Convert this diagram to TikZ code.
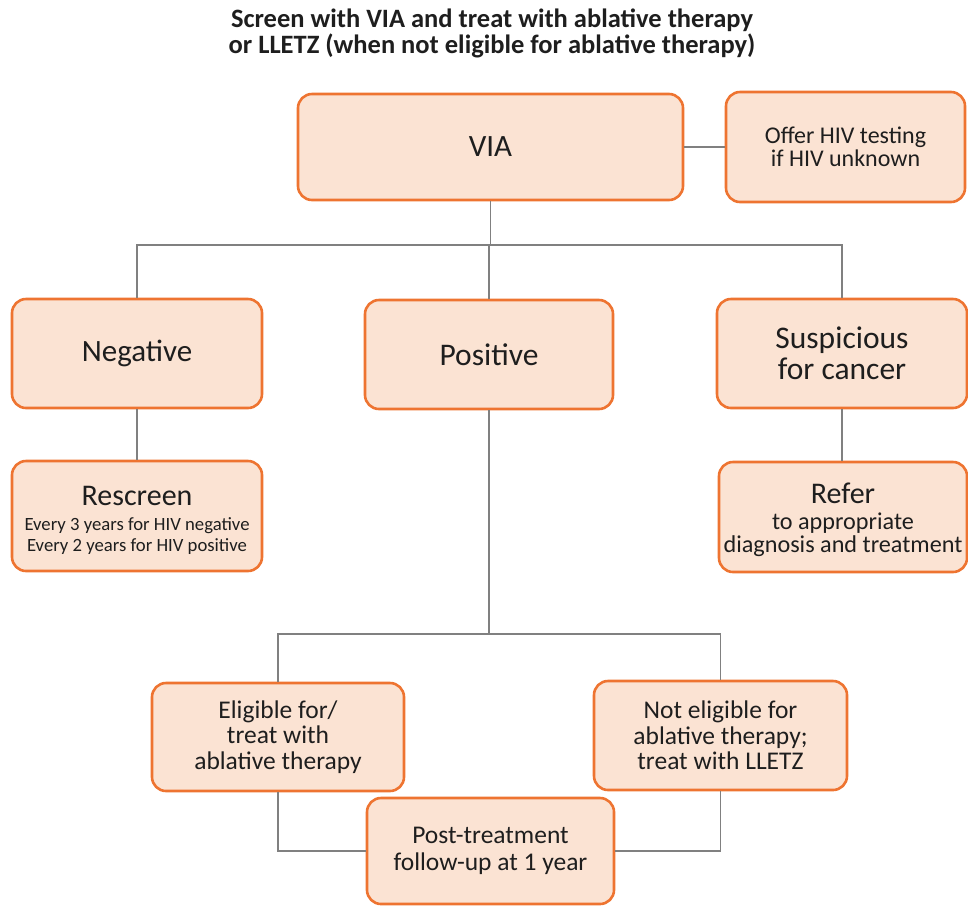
\documentclass[tikz,border=0pt]{standalone}
\usepackage{fontspec}
\setmainfont{Carlito}
\definecolor{boxfill}{HTML}{FBE3D3}
\definecolor{boxline}{HTML}{EE7431}
\definecolor{linegray}{HTML}{808080}
\definecolor{txt}{HTML}{1E1E1E}
\newcommand\myfs[2]{\fontsize{#1}{#2}\selectfont}
\begin{document}
\begin{tikzpicture}[x=1pt,y=-1pt,
  box/.style={draw=boxline, fill=boxfill, line width=2.6pt, rounded corners=14pt,
    align=center, inner sep=0pt, text=txt},
  conn/.style={draw=linegray, line width=1.4pt}]
\useasboundingbox (0,0) rectangle (968,906);
\node[align=center, text=txt, font=\bfseries\myfs{26.5}{26}] (title) at (492,33)
  {Screen with VIA and treat with ablative therapy\\or LLETZ (when not eligible for ablative therapy)};
\node[box, minimum width=385pt, minimum height=106pt, font=\myfs{31}{31}] (via) at (490.5,147) {VIA};
\node[box, minimum width=239pt, minimum height=110pt, font=\myfs{24}{23}] (offer) at (845.5,147) {Offer HIV testing\\if HIV unknown};
\node[box, minimum width=250pt, minimum height=109pt, font=\myfs{31}{31}] (neg) at (137,353.5) {Negative};
\node[box, minimum width=248pt, minimum height=109pt, font=\myfs{31.5}{31}] (pos) at (489,354.5) {Positive};
\node[box, minimum width=250pt, minimum height=109pt, font=\myfs{31.5}{31}] (susp) at (842,353.5) {Suspicious\\for cancer};
\node[box, minimum width=250pt, minimum height=110pt,
  label={[align=center, text=txt, font=\myfs{18.7}{20.5}, yshift=-4pt]center:{{\myfs{30}{29}Rescreen}\\[5pt]Every 3 years for HIV negative\\Every 2 years for HIV positive}}] (resc) at (137,516) {};
\node[box, minimum width=248pt, minimum height=110pt,
  label={[align=center, text=txt, font=\myfs{24.2}{23}, yshift=-2.5pt]center:{{\myfs{30}{29}Refer}\\[3pt]to appropriate\\diagnosis and treatment}}] (refer) at (843,517) {};
\node[box, minimum width=252pt, minimum height=108pt, font=\myfs{25.5}{25.5}] (elig) at (278,737) {Eligible for/\\treat with\\ablative therapy};
\node[box, minimum width=253pt, minimum height=109pt, font=\myfs{25.5}{25.5}] (nelig) at (720.5,735.5) {Not eligible for\\ablative therapy;\\treat with LLETZ};
\node[box, minimum width=247pt, minimum height=106pt, font=\myfs{25.5}{27}] (post) at (490.5,851) {Post-treatment\\follow-up at 1 year};
\coordinate (h1) at (0,245);
\coordinate (h2) at (0,634);
\draw[conn] (via.east) -- (offer.west);
\draw[conn] (via.south) -- (via.south |- h1);
\draw[conn] (neg.north) -- (neg.north |- h1) -- (susp.north |- h1) -- (susp.north);
\draw[conn] (pos.north) -- (pos.north |- h1);
\draw[conn] (neg.south) -- (resc.north);
\draw[conn] (susp.south) -- (susp.south |- refer.north);
\draw[conn] (pos.south) -- (pos.south |- h2);
\draw[conn] (elig.north) -- (elig.north |- h2) -- (nelig.north |- h2) -- (nelig.north);
\draw[conn] (elig.south) |- (post.west);
\draw[conn] (nelig.south) |- (post.east);
\end{tikzpicture}
\end{document}
